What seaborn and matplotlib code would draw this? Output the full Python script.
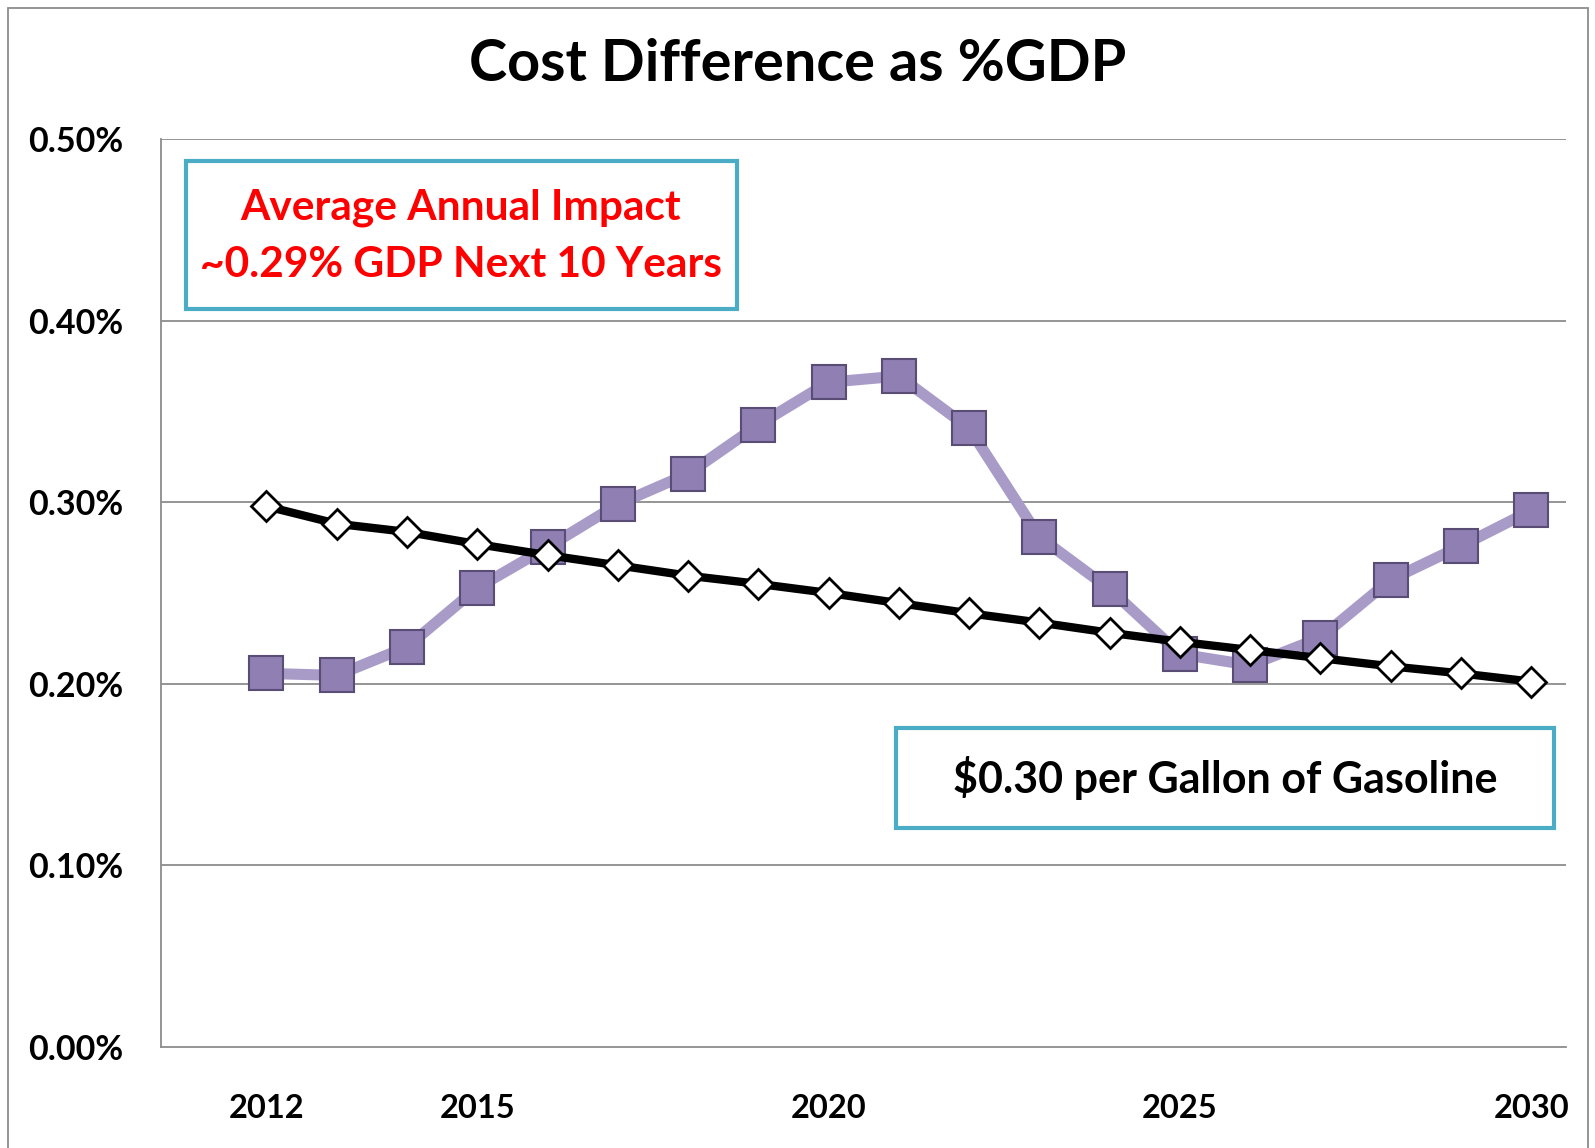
import matplotlib
matplotlib.use("Agg")
import matplotlib.pyplot as plt
import matplotlib.patches as patches
from matplotlib.ticker import FuncFormatter, FixedLocator
import seaborn as sns

# data (values in % of GDP)
years = list(range(2012, 2031))
cost_pct = [0.2057, 0.2046, 0.2203, 0.2528, 0.2752, 0.2988, 0.3156, 0.3425, 0.3660, 0.3694,
            0.3408, 0.2808, 0.2522, 0.2164, 0.2102, 0.2253, 0.2573, 0.2758, 0.2954]
trend_pct = [0.2977, 0.2881, 0.2836, 0.2769, 0.2708, 0.2652, 0.2595, 0.2550, 0.2500, 0.2444,
             0.2388, 0.2337, 0.2281, 0.2231, 0.2186, 0.2141, 0.2096, 0.2057, 0.2012]
label_years = [2012, 2015, 2020, 2025, 2030]
y_ticks = [0.0, 0.1, 0.2, 0.3, 0.4, 0.5]

sns.set_style("white")
plt.rcParams['font.family'] = ['Lato', 'DejaVu Sans']
plt.rcParams['text.color'] = 'black'

fig = plt.figure(figsize=(15.95, 11.48), dpi=100)
ax = fig.add_axes([0.101, 0.088, 0.881, 0.791])

# gridlines
for v in y_ticks[1:]:
    ax.axhline(v, color='#8c8c8c', lw=1.3, zorder=0)

sns.lineplot(x=years, y=cost_pct, ax=ax, color='#a99bc8', lw=8, marker='s', markersize=24,
             markerfacecolor='#8f7fb3', markeredgecolor='#5a4d75', markeredgewidth=1.5, zorder=3)
sns.lineplot(x=years, y=trend_pct, ax=ax, color='black', lw=6, marker='D', markersize=15,
             markerfacecolor='white', markeredgecolor='black', markeredgewidth=2, zorder=4)

ax.set_xlim(2010.5, 2030.5)
ax.set_ylim(0, 0.5)
ax.set_xticks(label_years)
ax.xaxis.set_minor_locator(FixedLocator([y + 0.5 for y in range(2010, 2031)]))
ax.tick_params(axis='x', which='major', length=0, pad=34, labelsize=23.5, labelcolor='black')
ax.tick_params(axis='x', which='minor', length=12, width=1.3, color='#8c8c8c', direction='out')
ax.set_yticks(y_ticks)
ax.yaxis.set_major_formatter(FuncFormatter(lambda v, p: f"{v:.2f}%"))
ax.tick_params(axis='y', length=10, width=1.3, color='#8c8c8c', direction='out', pad=17,
               labelsize=24.5, labelcolor='black')
for lab in ax.get_xticklabels() + ax.get_yticklabels():
    lab.set_fontweight('bold')

for s in ['top', 'right']:
    ax.spines[s].set_visible(False)
for s in ['left', 'bottom']:
    ax.spines[s].set_color('#8c8c8c')
    ax.spines[s].set_linewidth(1.3)

fig.text(0.500, 0.944, 'Cost Difference as %GDP', ha='center', va='center',
         fontsize=41.5, fontweight='bold', color='black')

# annotation boxes
box_col = '#4bacc6'
fig.patches.append(patches.Rectangle((186 / 1595, 1 - 309 / 1148), 551 / 1595, 148 / 1148,
                                     transform=fig.transFigure, fill=True, facecolor='white',
                                     edgecolor=box_col, lw=3, zorder=5))
fig.text(461 / 1595, 1 - 208 / 1148, 'Average Annual Impact', ha='center', va='center',
         fontsize=30.5, fontweight='bold', color='#ff0000', zorder=6)
fig.text(461 / 1595, 1 - 265 / 1148, '~0.29% GDP Next 10 Years', ha='center', va='center',
         fontsize=30.5, fontweight='bold', color='#ff0000', zorder=6)

fig.patches.append(patches.Rectangle((896 / 1595, 1 - 828 / 1148), 658 / 1595, 100 / 1148,
                                     transform=fig.transFigure, fill=True, facecolor='white',
                                     edgecolor=box_col, lw=3, zorder=5))
fig.text(1225 / 1595, 1 - 778 / 1148, '$0.30 per Gallon of Gasoline', ha='center', va='center',
         fontsize=31, fontweight='bold', color='black', zorder=6)

# outer chart border
fig.patches.append(patches.Rectangle((8 / 1595, -0.01), 1580 / 1595, 1 - 8 / 1148 + 0.01,
                                     transform=fig.transFigure, fill=False,
                                     edgecolor='#8c8c8c', lw=1.3))

fig.savefig('out.png', dpi=100)
